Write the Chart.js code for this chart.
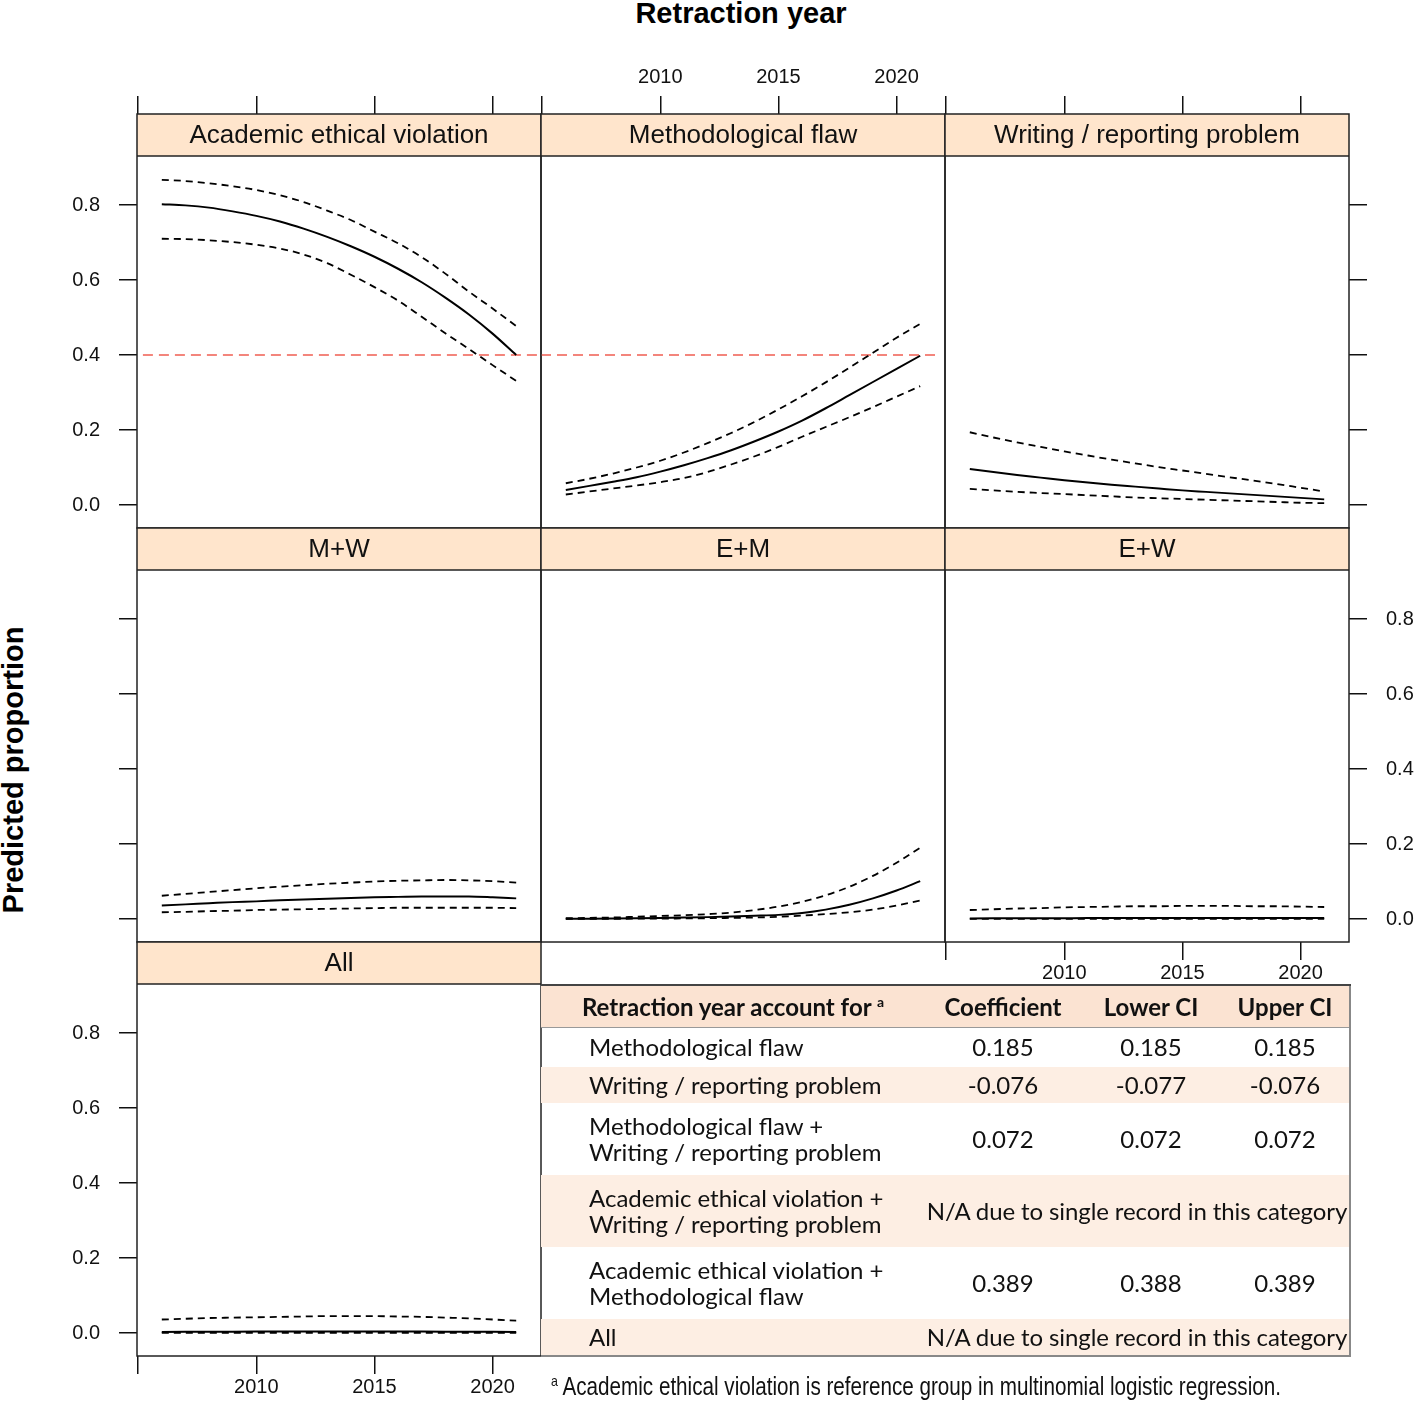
<!DOCTYPE html>
<html><head><meta charset="utf-8">
<script src="https://cdn.jsdelivr.net/npm/chart.js@4.4.1/dist/chart.umd.min.js"></script>
<style>
html,body{margin:0;padding:0;background:#fff;overflow:hidden}
#root{position:relative;width:1416px;height:1401px;overflow:hidden;background:#fff}
#root canvas{position:absolute;z-index:1}
.strip{position:absolute;z-index:5;height:42px;font:26px "Liberation Sans",Arial,sans-serif;line-height:42px;text-align:center;color:#111;white-space:nowrap}
.ttl{position:absolute;z-index:5;font:bold 29px "Liberation Sans",Arial,sans-serif;color:#000;text-align:center;white-space:nowrap}
#tbl{position:absolute;z-index:4;left:541px;top:984px;width:809px;border-collapse:collapse;table-layout:fixed;font-family:Lato,"Open Sans",sans-serif;font-size:24px;color:#111}
#tbl td,#tbl th{padding:0;vertical-align:middle;line-height:26px;white-space:nowrap;overflow:visible}
#tbl th{font-weight:bold;text-align:center;background:#FBE3D2;height:41px;border-top:2px solid #444;border-bottom:1px solid #999}
#tbl td{text-align:center}
#tbl td.lab{text-align:left;padding-left:48px}
#tbl td.na{letter-spacing:-0.1px}
#tbl tr.band td{background:#FDEEE3}
#tbl{border-right:2px solid #888;border-bottom:2px solid #888}
#foot{position:absolute;z-index:5;left:551px;top:1372px;font:25px "Liberation Sans",Arial,sans-serif;line-height:29px;color:#111;white-space:nowrap;transform:scaleX(0.826);transform-origin:left top}
#foot sup{font-size:15px;line-height:0;vertical-align:9px}
</style></head>
<body><div id="root">
<div class="ttl" style="left:441px;top:-3px;width:600px;line-height:32px">Retraction year</div>
<div class="ttl" style="left:-187px;top:755px;width:400px;line-height:30px;transform:rotate(-90deg)">Predicted proportion</div>
<table id="tbl"></table>
<div id="foot"><sup>a</sup> Academic ethical violation is reference group in multinomial logistic regression.</div>
</div>
<script>
// ---------- data ----------
const years = [2006,2007,2008,2009,2010,2011,2012,2013,2014,2015,2016,2017,2018,2019,2020,2021];
const xTicks = [2005,2010,2015,2020];
const xTickLabels = ['','2010','2015','2020'];
const yTicks = [0,0.2,0.4,0.6,0.8];
const yTickLabels = ['0.0','0.2','0.4','0.6','0.8'];
const panelTitles = ['Academic ethical violation','Methodological flaw','Writing / reporting problem','M+W','E+M','E+W','All'];

const aevFit   = [0.802,0.799,0.793,0.783,0.771,0.756,0.737,0.715,0.690,0.662,0.630,0.594,0.553,0.508,0.457,0.400];
const aevUpper = [0.867,0.864,0.858,0.850,0.840,0.826,0.808,0.785,0.760,0.729,0.698,0.661,0.617,0.569,0.524,0.477];
const aevLower = [0.710,0.709,0.706,0.701,0.694,0.684,0.668,0.645,0.614,0.581,0.545,0.502,0.458,0.416,0.373,0.331];

const mfFit    = [0.040,0.051,0.062,0.074,0.089,0.106,0.125,0.146,0.170,0.196,0.225,0.258,0.293,0.328,0.363,0.398];
const mfUpper  = [0.058,0.070,0.084,0.100,0.118,0.140,0.165,0.192,0.222,0.255,0.290,0.327,0.366,0.406,0.446,0.483];
const mfLower  = [0.028,0.036,0.044,0.052,0.061,0.072,0.088,0.108,0.130,0.155,0.182,0.208,0.234,0.261,0.289,0.317];

const wrFit    = [0.096,0.088,0.080,0.073,0.066,0.060,0.054,0.049,0.044,0.039,0.035,0.031,0.027,0.023,0.019,0.015];
const wrUpper  = [0.194,0.180,0.167,0.155,0.143,0.132,0.121,0.111,0.101,0.092,0.083,0.074,0.065,0.056,0.046,0.036];
const wrLower  = [0.043,0.039,0.035,0.032,0.029,0.026,0.023,0.020,0.018,0.016,0.014,0.012,0.010,0.008,0.006,0.005];

const mwFit    = [0.036,0.039,0.042,0.045,0.047,0.050,0.052,0.054,0.056,0.058,0.059,0.060,0.060,0.060,0.058,0.055];
const mwUpper  = [0.062,0.067,0.072,0.077,0.082,0.086,0.090,0.094,0.097,0.100,0.102,0.103,0.104,0.103,0.101,0.097];
const mwLower  = [0.018,0.019,0.021,0.022,0.024,0.025,0.026,0.027,0.028,0.029,0.030,0.030,0.030,0.030,0.030,0.029];

const emFit    = [0.0005,0.0008,0.0012,0.0018,0.0027,0.0038,0.0050,0.0065,0.0085,0.011,0.016,0.025,0.038,0.055,0.076,0.101];
const emUpper  = [0.002,0.003,0.004,0.006,0.008,0.010,0.013,0.017,0.024,0.033,0.046,0.063,0.086,0.115,0.150,0.190];
const emLower  = [0.0002,0.0003,0.0005,0.0008,0.001,0.0015,0.002,0.003,0.004,0.006,0.009,0.013,0.018,0.025,0.036,0.049];

const ewFit    = [0.0015,0.0017,0.0019,0.002,0.0022,0.0024,0.0025,0.0026,0.0027,0.0028,0.0029,0.003,0.003,0.003,0.003,0.003];
const ewUpper  = [0.024,0.026,0.028,0.029,0.031,0.032,0.033,0.034,0.034,0.035,0.035,0.035,0.034,0.034,0.033,0.032];
const ewLower  = [0.0001,0.0001,0.0001,0.0001,0.0001,0.0001,0.0001,0.0001,0.0001,0.0001,0.0001,0.0001,0.0001,0.0001,0.0001,0.0001];

const allFit   = [0.003,0.0032,0.0034,0.0036,0.0038,0.004,0.004,0.004,0.004,0.004,0.004,0.0038,0.0036,0.0034,0.0032,0.003];
const allUpper = [0.036,0.038,0.040,0.041,0.042,0.043,0.044,0.045,0.045,0.045,0.044,0.043,0.041,0.039,0.036,0.033];
const allLower = [0.0003,0.0003,0.0003,0.0003,0.0003,0.0003,0.0003,0.0003,0.0003,0.0003,0.0003,0.0003,0.0003,0.0003,0.0003,0.0003];

const refLineValue = 0.4;
const refLineXStart = [2005.2, 2004.95];
const refLineXEnd   = [2022.05, 2021.7];

const tableHeader = ['Retraction year account for', 'Coefficient', 'Lower CI', 'Upper CI'];
const tableRowLabels = [
  ['Methodological flaw'],
  ['Writing / reporting problem'],
  ['Methodological flaw +','Writing / reporting problem'],
  ['Academic ethical violation +','Writing / reporting problem'],
  ['Academic ethical violation +','Methodological flaw'],
  ['All']
];
const coefValues    = ['0.185','-0.076','0.072',null,'0.389',null];
const lowerCIValues = ['0.185','-0.077','0.072',null,'0.388',null];
const upperCIValues = ['0.185','-0.076','0.072',null,'0.389',null];
const naText = 'N/A due to single record in this category';

// ---------- layout ----------
const M = 70, PW = 404, PH = 414, STRIP = 42;
const colX = [137, 541, 945], rowY = [114, 528, 942];
const X_MIN = 2004.95, X_MAX = 2022.05;
const Y_MIN = -23/375, Y_MAX = -23/375 + PH/375;
const STRIP_BG = '#FFE5CC';
const FONT = '"Liberation Sans", Arial, sans-serif';

const panels = [
  {t:0, col:0,row:0, fit:aevFit, hi:aevUpper, lo:aevLower, ref:0, top:'ticks', left:'labels'},
  {t:1, col:1,row:0, fit:mfFit,  hi:mfUpper,  lo:mfLower,  ref:1, top:'labels'},
  {t:2, col:2,row:0, fit:wrFit,  hi:wrUpper,  lo:wrLower,  top:'ticks', right:'ticks'},
  {t:3, col:0,row:1, fit:mwFit,  hi:mwUpper,  lo:mwLower,  left:'ticks'},
  {t:4, col:1,row:1, fit:emFit,  hi:emUpper,  lo:emLower},
  {t:5, col:2,row:1, fit:ewFit,  hi:ewUpper,  lo:ewLower,  right:'labels', bottom:'labels'},
  {t:6, col:0,row:2, fit:allFit, hi:allUpper, lo:allLower, left:'labels', bottom:'labels'}
];

const frame = {
  id:'frame',
  beforeDatasetsDraw(chart){
    const {ctx, chartArea:a} = chart;
    ctx.save();
    ctx.fillStyle = STRIP_BG;
    ctx.fillRect(a.left, a.top, a.right-a.left, STRIP);
    ctx.restore();
  },
  afterDatasetsDraw(chart){
    const {ctx, chartArea:a} = chart;
    ctx.save();
    ctx.strokeStyle = '#222'; ctx.lineWidth = 1.5;
    ctx.beginPath();
    ctx.moveTo(a.left, a.top+STRIP); ctx.lineTo(a.right, a.top+STRIP);
    ctx.stroke();
    ctx.strokeRect(a.left, a.top, a.right-a.left, a.bottom-a.top);
    ctx.restore();
  }
};

function tickFont(){ return {family: FONT, size: 20}; }
function xAxis(pos, mode){
  mode = mode || 'none';
  return {
    type:'linear', position:pos, min:X_MIN, max:X_MAX, display:true,
    afterFit: s => { s.height = M; },
    afterBuildTicks: s => { s.ticks = xTicks.map(v => ({value:v})); },
    grid:{display: mode!=='none', drawOnChartArea:false, drawTicks:true, tickLength:18, color:'#111', lineWidth:1.5},
    border:{display:false},
    ticks:{display: mode==='labels', autoSkip:false, maxRotation:0, minRotation:0, padding: pos==='top'?7:1, color:'#111', font:tickFont(),
      callback: v => { const i = xTicks.indexOf(v); return i<0 ? '' : xTickLabels[i]; }}
  };
}
function yAxis(pos, mode){
  mode = mode || 'none';
  return {
    type:'linear', position:pos, min:Y_MIN, max:Y_MAX, display:true,
    afterFit: s => { s.width = M; },
    afterBuildTicks: s => { s.ticks = yTicks.map(v => ({value:v})); },
    grid:{display: mode!=='none', drawOnChartArea:false, drawTicks:true, tickLength:18, color:'#111', lineWidth:1.5},
    border:{display:false},
    ticks:{display: mode==='labels', autoSkip:false, padding: 19, color:'#111', font:tickFont(),
      callback: v => { const i = yTicks.indexOf(v); return i<0 ? '' : yTickLabels[i]; }}
  };
}
function series(vals){ return years.map((x,i) => ({x:x, y:vals[i]})); }

const root = document.getElementById('root');
panels.forEach(p => {
  const lab = document.createElement('div');
  lab.className = 'strip';
  lab.style.left = colX[p.col]+'px'; lab.style.top = (rowY[p.row]-1)+'px'; lab.style.width = PW+'px';
  lab.textContent = panelTitles[p.t];
  root.appendChild(lab);

  const cv = document.createElement('canvas');
  cv.width = PW + 2*M; cv.height = PH + 2*M;
  cv.style.left = (colX[p.col]-M)+'px'; cv.style.top = (rowY[p.row]-M)+'px';
  cv.style.width = cv.width+'px'; cv.style.height = cv.height+'px';
  root.appendChild(cv);

  const ds = [
    {data: series(p.fit), borderColor:'#000', borderWidth:2, pointRadius:0, cubicInterpolationMode:'monotone', fill:false},
    {data: series(p.hi),  borderColor:'#000', borderWidth:1.8, borderDash:[7,5], pointRadius:0, cubicInterpolationMode:'monotone', fill:false},
    {data: series(p.lo),  borderColor:'#000', borderWidth:1.8, borderDash:[7,5], pointRadius:0, cubicInterpolationMode:'monotone', fill:false}
  ];
  if (p.ref !== undefined) {
    ds.push({data:[{x:refLineXStart[p.ref], y:refLineValue},{x:refLineXEnd[p.ref], y:refLineValue}],
      borderColor:'#F3857C', borderWidth:2, borderDash:[10,6], pointRadius:0, fill:false});
  }
  new Chart(cv, {
    type:'line',
    data:{datasets: ds},
    options:{
      responsive:false, animation:false, devicePixelRatio:1,
      layout:{padding:0},
      plugins:{legend:{display:false}, title:{display:false}, tooltip:{enabled:false}},
      scales:{
        x: xAxis('bottom', p.bottom),
        x2: xAxis('top', p.top),
        y: yAxis('left', p.left),
        y2: yAxis('right', p.right)
      }
    },
    plugins:[frame]
  });
});

// ---------- table ----------
const tbl = document.getElementById('tbl');
let html = '<colgroup><col style="width:384px"><col style="width:156px"><col style="width:140px"><col style="width:129px"></colgroup>';
html += '<tr><th>' + tableHeader[0] + ' <sup style="font-size:14px;line-height:0;vertical-align:9px">a</sup></th><th>' + tableHeader[1] + '</th><th>' + tableHeader[2] + '</th><th>' + tableHeader[3] + '</th></tr>';
const rowH = [39,36,72,72,72,37];
tableRowLabels.forEach((lab,i) => {
  html += '<tr class="' + (i%2===1?'band':'') + '" style="height:' + rowH[i] + 'px"><td class="lab">' + lab.join('<br>') + '</td>';
  if (coefValues[i] === null) {
    html += '<td class="na" colspan="3">' + naText + '</td>';
  } else {
    html += '<td>' + coefValues[i] + '</td><td>' + lowerCIValues[i] + '</td><td>' + upperCIValues[i] + '</td>';
  }
  html += '</tr>';
});
tbl.innerHTML = html;
</script>
</body></html>
